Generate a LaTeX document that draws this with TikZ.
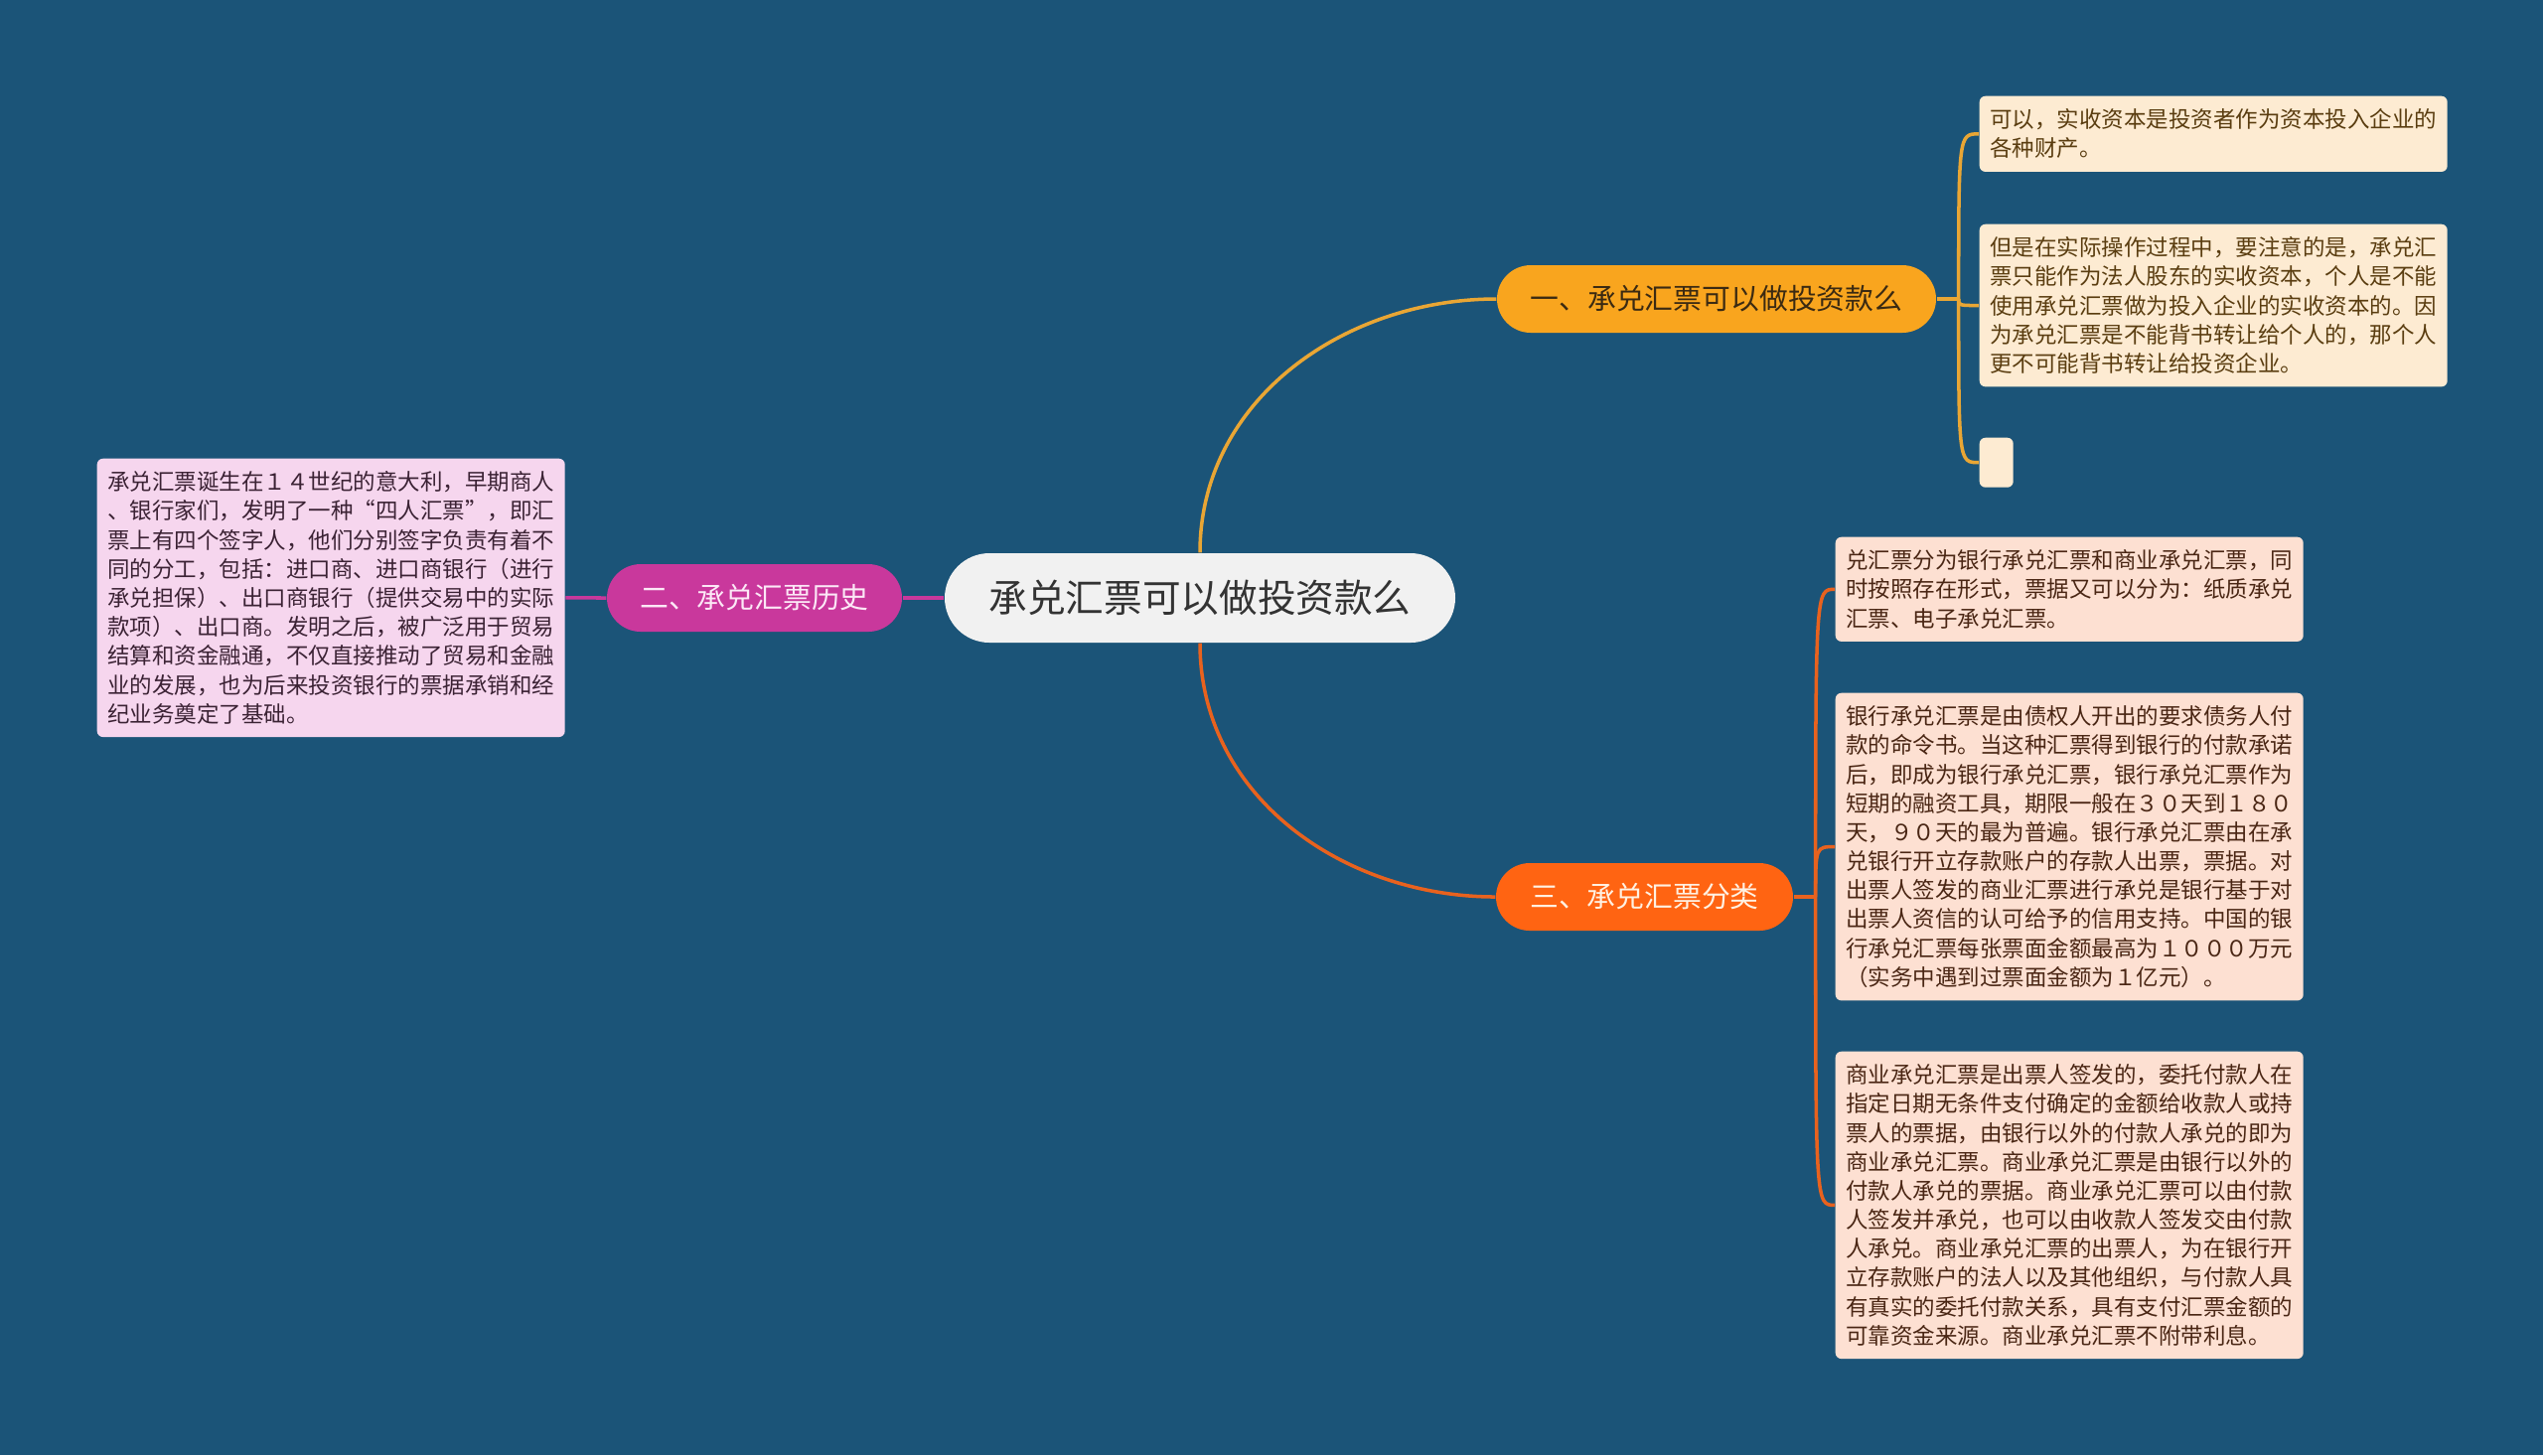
\documentclass[tikz,border=0pt]{standalone}
\usepackage{fontspec}
\setmainfont{Noto Sans CJK SC}
\definecolor{bgblue}{HTML}{1B5478}
\definecolor{rootfill}{HTML}{F1F1F1}
\definecolor{rootink}{HTML}{333333}
\definecolor{goldfill}{HTML}{F9A51E}
\definecolor{goldline}{HTML}{E9A634}
\definecolor{goldink}{HTML}{3B2A12}
\definecolor{pinkfill}{HTML}{C9389C}
\definecolor{pinkink}{HTML}{FCE8F6}
\definecolor{orangefill}{HTML}{FF6412}
\definecolor{orangeline}{HTML}{E8621E}
\definecolor{orangeink}{HTML}{FFF1E2}
\definecolor{creamnote}{HTML}{FDEBD2}
\definecolor{creamink}{HTML}{5A3D10}
\definecolor{peachnote}{HTML}{FDE0D2}
\definecolor{peachink}{HTML}{4A2614}
\definecolor{lilacnote}{HTML}{F6D6EE}
\definecolor{lilacink}{HTML}{3B2234}
\tikzset{
	topic/.style={rounded corners=0.34cm, minimum height=0.68cm, inner sep=0pt,
			font=\fontsize{8.2}{10}\selectfont},
	note/.style={anchor=north west, rounded corners=0.06cm, text width=4.5cm, align=left,
			inner xsep=0.105cm, inner ysep=0.13cm, font=\fontsize{6.4}{8.3}\selectfont},
	link/.style={line width=1pt}
}
\begin{document}
\begin{tikzpicture}
		\fill[bgblue] (0,0) rectangle (25.6,-14.65);
		% root and main topics
		\node[fill=rootfill, text=rootink, rounded corners=0.45cm, minimum width=5.14cm,
				minimum height=0.9cm, font=\fontsize{11}{13}\selectfont] (root) at (12.08,-6.02) {承兑汇票可以做投资款么};
		\node[topic, fill=goldfill, text=goldink, minimum width=4.42cm] (t1) at (17.28,-3.01) {一、承兑汇票可以做投资款么};
		\node[topic, fill=pinkfill, text=pinkink, minimum width=2.97cm] (t2) at (7.595,-6.02) {二、承兑汇票历史};
		\node[topic, fill=orangefill, text=orangeink, minimum width=2.99cm] (t3) at (16.555,-9.03) {三、承兑汇票分类};
		% notes
		\node[note, fill=lilacnote, text=lilacink] (h1) at (0.97,-4.61) {承兑汇票诞生在１４世纪的意大利，早期商人\\
			、银行家们，发明了一种“四人汇票”，即汇\\
			票上有四个签字人，他们分别签字负责有着不\\
			同的分工，包括：进口商、进口商银行（进行\\
			承兑担保）、出口商银行（提供交易中的实际\\
			款项）、出口商。发明之后，被广泛用于贸易\\
			结算和资金融通，不仅直接推动了贸易和金融\\
			业的发展，也为后来投资银行的票据承销和经\\
			纪业务奠定了基础。};
		\node[note, fill=creamnote, text=creamink] (a1) at (19.92,-0.96) {可以，实收资本是投资者作为资本投入企业的\\
			各种财产。};
		\node[note, fill=creamnote, text=creamink] (a2) at (19.92,-2.25) {但是在实际操作过程中，要注意的是，承兑汇\\
			票只能作为法人股东的实收资本，个人是不能\\
			使用承兑汇票做为投入企业的实收资本的。因\\
			为承兑汇票是不能背书转让给个人的，那个人\\
			更不可能背书转让给投资企业。};
		\node[anchor=north west, fill=creamnote, rounded corners=0.06cm, minimum width=0.34cm,
				minimum height=0.5cm, inner sep=0pt] (a3) at (19.92,-4.40) {};
		\node[note, fill=peachnote, text=peachink] (c1) at (18.47,-5.40) {兑汇票分为银行承兑汇票和商业承兑汇票，同\\
			时按照存在形式，票据又可以分为：纸质承兑\\
			汇票、电子承兑汇票。};
		\node[note, fill=peachnote, text=peachink] (c2) at (18.47,-6.97) {银行承兑汇票是由债权人开出的要求债务人付\\
			款的命令书。当这种汇票得到银行的付款承诺\\
			后，即成为银行承兑汇票，银行承兑汇票作为\\
			短期的融资工具，期限一般在３０天到１８０\\
			天，９０天的最为普遍。银行承兑汇票由在承\\
			兑银行开立存款账户的存款人出票，票据。对\\
			出票人签发的商业汇票进行承兑是银行基于对\\
			出票人资信的认可给予的信用支持。中国的银\\
			行承兑汇票每张票面金额最高为１０００万元\\
			（实务中遇到过票面金额为１亿元）。};
		\node[note, fill=peachnote, text=peachink] (c3) at (18.47,-10.58) {商业承兑汇票是出票人签发的，委托付款人在\\
			指定日期无条件支付确定的金额给收款人或持\\
			票人的票据，由银行以外的付款人承兑的即为\\
			商业承兑汇票。商业承兑汇票是由银行以外的\\
			付款人承兑的票据。商业承兑汇票可以由付款\\
			人签发并承兑，也可以由收款人签发交由付款\\
			人承兑。商业承兑汇票的出票人，为在银行开\\
			立存款账户的法人以及其他组织，与付款人具\\
			有真实的委托付款关系，具有支付汇票金额的\\
			可靠资金来源。商业承兑汇票不附带利息。};
		% links
		\draw[link, goldline] (root.north) to[out=90, in=180] (t1.west);
		\draw[link, orangeline] (root.south) to[out=-90, in=180] (t3.west);
		\draw[link, pinkfill] (root.west) -- (t2.east);
		\draw[link, pinkfill] (t2.west) -- (h1.east);
		\draw[link, goldline] (t1.east) -- ++(0.22,0) coordinate (j1);
		\foreach \n in {a1,a2,a3}
			\draw[link, goldline] (j1) .. controls (j1 |- \n.west) .. (\n.west);
		\draw[link, orangeline] (t3.east) -- ++(0.22,0) coordinate (j3);
		\foreach \n in {c1,c2,c3}
			\draw[link, orangeline] (j3) .. controls (j3 |- \n.west) .. (\n.west);
	\end{tikzpicture}
\end{document}
